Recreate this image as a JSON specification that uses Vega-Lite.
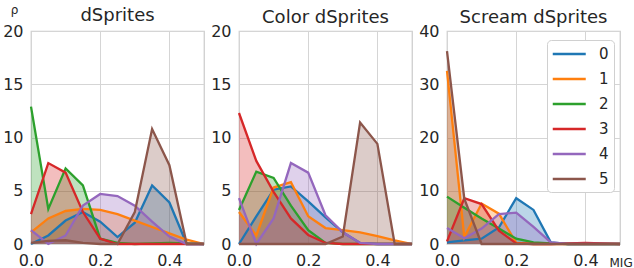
{
  "$schema": "https://vega.github.io/schema/vega-lite/v6.json",
  "background": "white",
  "padding": {"left": 2, "top": 2, "right": 1, "bottom": 1},
  "bounds": "flush",
  "spacing": 35,
  "config": {
    "font": "DejaVu Sans",
    "view": {"stroke": "#cccccc", "strokeWidth": 1.25},
    "axis": {
      "domain": false, "ticks": false, "grid": true, "gridColor": "#d5d5d5", "gridWidth": 1,
      "labelFlush": false, "labelOverlap": false,
      "labelFont": "DejaVu Sans", "labelFontSize": 16, "labelColor": "#262626",
      "titleFont": "DejaVu Sans", "titleColor": "#262626", "titleFontWeight": "normal"
    },
    "title": {"font": "DejaVu Sans", "fontSize": 18, "fontWeight": "normal", "color": "#262626", "offset": -4}
  },
  "datasets": {
    "D": [
      {"s":"0","x":0,"y":0},{"s":"0","x":0.05,"y":0.8},{"s":"0","x":0.1,"y":2.2},{"s":"0","x":0.15,"y":3.0},{"s":"0","x":0.2,"y":2.1},{"s":"0","x":0.25,"y":0.65},{"s":"0","x":0.3,"y":2.0},{"s":"0","x":0.35,"y":5.5},{"s":"0","x":0.4,"y":3.9},{"s":"0","x":0.45,"y":0},{"s":"0","x":0.5,"y":0},
      {"s":"1","x":0,"y":1.1},{"s":"1","x":0.05,"y":2.4},{"s":"1","x":0.1,"y":3.1},{"s":"1","x":0.15,"y":3.3},{"s":"1","x":0.2,"y":3.2},{"s":"1","x":0.25,"y":2.8},{"s":"1","x":0.3,"y":2.2},{"s":"1","x":0.35,"y":1.6},{"s":"1","x":0.4,"y":1.0},{"s":"1","x":0.45,"y":0.4},{"s":"1","x":0.5,"y":0},
      {"s":"2","x":0,"y":12.9},{"s":"2","x":0.05,"y":3.3},{"s":"2","x":0.1,"y":7.1},{"s":"2","x":0.15,"y":5.5},{"s":"2","x":0.2,"y":0.5},{"s":"2","x":0.25,"y":0.1},{"s":"2","x":0.3,"y":0},{"s":"2","x":0.35,"y":0.05},{"s":"2","x":0.4,"y":0.1},{"s":"2","x":0.45,"y":0.05},{"s":"2","x":0.5,"y":0},
      {"s":"3","x":0,"y":2.8},{"s":"3","x":0.05,"y":7.6},{"s":"3","x":0.1,"y":6.7},{"s":"3","x":0.15,"y":3.0},{"s":"3","x":0.2,"y":0.5},{"s":"3","x":0.25,"y":0},{"s":"3","x":0.3,"y":0},{"s":"3","x":0.35,"y":0},{"s":"3","x":0.4,"y":0},{"s":"3","x":0.45,"y":0},{"s":"3","x":0.5,"y":0},
      {"s":"4","x":0,"y":1.3},{"s":"4","x":0.05,"y":0},{"s":"4","x":0.1,"y":0.8},{"s":"4","x":0.15,"y":3.6},{"s":"4","x":0.2,"y":4.7},{"s":"4","x":0.25,"y":4.5},{"s":"4","x":0.3,"y":3.6},{"s":"4","x":0.35,"y":2.1},{"s":"4","x":0.4,"y":0.7},{"s":"4","x":0.45,"y":0},{"s":"4","x":0.5,"y":0},
      {"s":"5","x":0,"y":0.1},{"s":"5","x":0.05,"y":0.3},{"s":"5","x":0.1,"y":0.35},{"s":"5","x":0.15,"y":0.1},{"s":"5","x":0.2,"y":0},{"s":"5","x":0.25,"y":0},{"s":"5","x":0.3,"y":3.0},{"s":"5","x":0.35,"y":10.8},{"s":"5","x":0.4,"y":7.4},{"s":"5","x":0.45,"y":0},{"s":"5","x":0.5,"y":0}
    ],
    "C": [
      {"s":"0","x":0,"y":0},{"s":"0","x":0.05,"y":2.6},{"s":"0","x":0.1,"y":5.1},{"s":"0","x":0.15,"y":5.4},{"s":"0","x":0.2,"y":4.0},{"s":"0","x":0.25,"y":2.5},{"s":"0","x":0.3,"y":1.1},{"s":"0","x":0.35,"y":0.1},{"s":"0","x":0.4,"y":0},{"s":"0","x":0.45,"y":0},{"s":"0","x":0.5,"y":0},
      {"s":"1","x":0,"y":3.0},{"s":"1","x":0.05,"y":0.8},{"s":"1","x":0.1,"y":5.3},{"s":"1","x":0.15,"y":5.8},{"s":"1","x":0.2,"y":2.6},{"s":"1","x":0.25,"y":1.5},{"s":"1","x":0.3,"y":1.3},{"s":"1","x":0.35,"y":1.1},{"s":"1","x":0.4,"y":0.75},{"s":"1","x":0.45,"y":0.35},{"s":"1","x":0.5,"y":0},
      {"s":"2","x":0,"y":3.2},{"s":"2","x":0.05,"y":6.8},{"s":"2","x":0.1,"y":6.2},{"s":"2","x":0.15,"y":3.6},{"s":"2","x":0.2,"y":1.3},{"s":"2","x":0.25,"y":0.1},{"s":"2","x":0.3,"y":0},{"s":"2","x":0.35,"y":0},{"s":"2","x":0.4,"y":0},{"s":"2","x":0.45,"y":0},{"s":"2","x":0.5,"y":0},
      {"s":"3","x":0,"y":12.3},{"s":"3","x":0.05,"y":7.8},{"s":"3","x":0.1,"y":4.9},{"s":"3","x":0.15,"y":2.4},{"s":"3","x":0.2,"y":0.85},{"s":"3","x":0.25,"y":0.1},{"s":"3","x":0.3,"y":0},{"s":"3","x":0.35,"y":0},{"s":"3","x":0.4,"y":0},{"s":"3","x":0.45,"y":0},{"s":"3","x":0.5,"y":0},
      {"s":"4","x":0,"y":4.3},{"s":"4","x":0.05,"y":0},{"s":"4","x":0.1,"y":2.4},{"s":"4","x":0.15,"y":7.6},{"s":"4","x":0.2,"y":6.7},{"s":"4","x":0.25,"y":2.7},{"s":"4","x":0.3,"y":1.1},{"s":"4","x":0.35,"y":0.1},{"s":"4","x":0.4,"y":0},{"s":"4","x":0.45,"y":0},{"s":"4","x":0.5,"y":0},
      {"s":"5","x":0,"y":0},{"s":"5","x":0.05,"y":0},{"s":"5","x":0.1,"y":0},{"s":"5","x":0.15,"y":0},{"s":"5","x":0.2,"y":0},{"s":"5","x":0.25,"y":0},{"s":"5","x":0.3,"y":0.7},{"s":"5","x":0.35,"y":11.4},{"s":"5","x":0.4,"y":9.4},{"s":"5","x":0.45,"y":0},{"s":"5","x":0.5,"y":0}
    ],
    "S": [
      {"s":"0","x":0,"y":0.3},{"s":"0","x":0.05,"y":0.7},{"s":"0","x":0.1,"y":1.0},{"s":"0","x":0.15,"y":3.1},{"s":"0","x":0.2,"y":8.6},{"s":"0","x":0.25,"y":6.4},{"s":"0","x":0.3,"y":0.3},{"s":"0","x":0.35,"y":0},{"s":"0","x":0.4,"y":0},{"s":"0","x":0.45,"y":0},{"s":"0","x":0.5,"y":0},
      {"s":"1","x":0,"y":32.5},{"s":"1","x":0.05,"y":1.3},{"s":"1","x":0.1,"y":7.6},{"s":"1","x":0.15,"y":5.7},{"s":"1","x":0.2,"y":0.2},{"s":"1","x":0.25,"y":0},{"s":"1","x":0.3,"y":0},{"s":"1","x":0.35,"y":0},{"s":"1","x":0.4,"y":0},{"s":"1","x":0.45,"y":0},{"s":"1","x":0.5,"y":0},
      {"s":"2","x":0,"y":8.9},{"s":"2","x":0.05,"y":6.8},{"s":"2","x":0.1,"y":4.8},{"s":"2","x":0.15,"y":2.9},{"s":"2","x":0.2,"y":1.0},{"s":"2","x":0.25,"y":0.3},{"s":"2","x":0.3,"y":0.1},{"s":"2","x":0.35,"y":0},{"s":"2","x":0.4,"y":0},{"s":"2","x":0.45,"y":0},{"s":"2","x":0.5,"y":0},
      {"s":"3","x":0,"y":0.5},{"s":"3","x":0.05,"y":8.6},{"s":"3","x":0.1,"y":7.5},{"s":"3","x":0.15,"y":2.5},{"s":"3","x":0.2,"y":0.1},{"s":"3","x":0.25,"y":0},{"s":"3","x":0.3,"y":0},{"s":"3","x":0.35,"y":0.1},{"s":"3","x":0.4,"y":0.2},{"s":"3","x":0.45,"y":0.1},{"s":"3","x":0.5,"y":0},
      {"s":"4","x":0,"y":3.0},{"s":"4","x":0.05,"y":1.1},{"s":"4","x":0.1,"y":2.9},{"s":"4","x":0.15,"y":5.6},{"s":"4","x":0.2,"y":5.9},{"s":"4","x":0.25,"y":3.2},{"s":"4","x":0.3,"y":0.3},{"s":"4","x":0.35,"y":0},{"s":"4","x":0.4,"y":0},{"s":"4","x":0.45,"y":0},{"s":"4","x":0.5,"y":0},
      {"s":"5","x":0,"y":36.2},{"s":"5","x":0.05,"y":8.5},{"s":"5","x":0.1,"y":0},{"s":"5","x":0.15,"y":0},{"s":"5","x":0.2,"y":0},{"s":"5","x":0.25,"y":0},{"s":"5","x":0.3,"y":0},{"s":"5","x":0.35,"y":0},{"s":"5","x":0.4,"y":0},{"s":"5","x":0.45,"y":0},{"s":"5","x":0.5,"y":0}
    ]
  },
  "resolve": {"legend": {"color": "independent"}},
  "hconcat": [
    {
      "width": 173, "height": 213,
      "title": {"text": "dSprites", "offset": -22},
      "data": {"name": "D"},
      "layer": [
        {"mark": {"type": "area", "fillOpacity": 0.3},
         "encoding": {
           "x": {"field": "x", "type": "quantitative", "scale": {"domain": [0, 0.5], "nice": false, "zero": false}, "axis": {"values": [0, 0.2, 0.4], "format": ".1f", "title": null, "labelPadding": 8}},
           "y": {"field": "y", "type": "quantitative", "stack": null, "scale": {"domain": [0, 20], "nice": false}, "axis": {"values": [0, 5, 10, 15, 20], "labelPadding": 8, "title": "ρ", "titleAngle": 0, "titleX": -17, "titleY": -18, "titleAlign": "center", "titleBaseline": "alphabetic", "titleFontSize": 12}},
           "fill": {"field": "s", "type": "nominal", "scale": {"domain": ["0","1","2","3","4","5"], "range": ["#1f77b4","#ff7f0e","#2ca02c","#d62728","#9467bd","#8c564b"]}, "legend": null}
         }},
        {"mark": {"type": "line", "strokeWidth": 2.3},
         "encoding": {
           "x": {"field": "x", "type": "quantitative"},
           "y": {"field": "y", "type": "quantitative"},
           "color": {"field": "s", "type": "nominal", "scale": {"domain": ["0","1","2","3","4","5"], "range": ["#1f77b4","#ff7f0e","#2ca02c","#d62728","#9467bd","#8c564b"]}, "legend": null}
         }}
      ]
    },
    {
      "width": 173, "height": 213,
      "title": "Color dSprites",
      "data": {"name": "C"},
      "layer": [
        {"mark": {"type": "area", "fillOpacity": 0.3},
         "encoding": {
           "x": {"field": "x", "type": "quantitative", "scale": {"domain": [0, 0.5], "nice": false, "zero": false}, "axis": {"values": [0, 0.2, 0.4], "format": ".1f", "title": null, "labelPadding": 8}},
           "y": {"field": "y", "type": "quantitative", "stack": null, "scale": {"domain": [0, 20], "nice": false}, "axis": {"values": [0, 5, 10, 15, 20], "labelPadding": 8, "title": null}},
           "fill": {"field": "s", "type": "nominal", "scale": {"domain": ["0","1","2","3","4","5"], "range": ["#1f77b4","#ff7f0e","#2ca02c","#d62728","#9467bd","#8c564b"]}, "legend": null}
         }},
        {"mark": {"type": "line", "strokeWidth": 2.3},
         "encoding": {
           "x": {"field": "x", "type": "quantitative"},
           "y": {"field": "y", "type": "quantitative"},
           "color": {"field": "s", "type": "nominal", "scale": {"domain": ["0","1","2","3","4","5"], "range": ["#1f77b4","#ff7f0e","#2ca02c","#d62728","#9467bd","#8c564b"]}, "legend": null}
         }}
      ]
    },
    {
      "width": 173, "height": 213,
      "title": "Scream dSprites",
      "data": {"name": "S"},
      "layer": [
        {"mark": {"type": "area", "fillOpacity": 0.3},
         "encoding": {
           "x": {"field": "x", "type": "quantitative", "scale": {"domain": [0, 0.5], "nice": false, "zero": false}, "axis": {"values": [0, 0.2, 0.4], "format": ".1f", "labelPadding": 8, "title": "MIG", "titleX": 162, "titleY": 22, "titleAlign": "left", "titleBaseline": "alphabetic", "titleFontSize": 12}},
           "y": {"field": "y", "type": "quantitative", "stack": null, "scale": {"domain": [0, 40], "nice": false}, "axis": {"values": [0, 10, 20, 30, 40], "labelPadding": 8, "title": null}},
           "fill": {"field": "s", "type": "nominal", "scale": {"domain": ["0","1","2","3","4","5"], "range": ["#1f77b4","#ff7f0e","#2ca02c","#d62728","#9467bd","#8c564b"]}, "legend": null}
         }},
        {"mark": {"type": "line", "strokeWidth": 2.3},
         "encoding": {
           "x": {"field": "x", "type": "quantitative"},
           "y": {"field": "y", "type": "quantitative"},
           "color": {"field": "s", "type": "nominal", "scale": {"domain": ["0","1","2","3","4","5"], "range": ["#1f77b4","#ff7f0e","#2ca02c","#d62728","#9467bd","#8c564b"]},
             "legend": {"title": null, "orient": "none", "legendX": 100, "legendY": 9, "symbolType": "M-1.1,0H3.3", "symbolSize": 225, "symbolStrokeWidth": 2.5, "labelFontSize": 15, "labelColor": "#262626", "labelOffset": 29, "rowPadding": 8, "padding": 5, "fillColor": "white", "strokeColor": "#d0d0d0", "cornerRadius": 4}}
         }}
      ]
    }
  ]
}
